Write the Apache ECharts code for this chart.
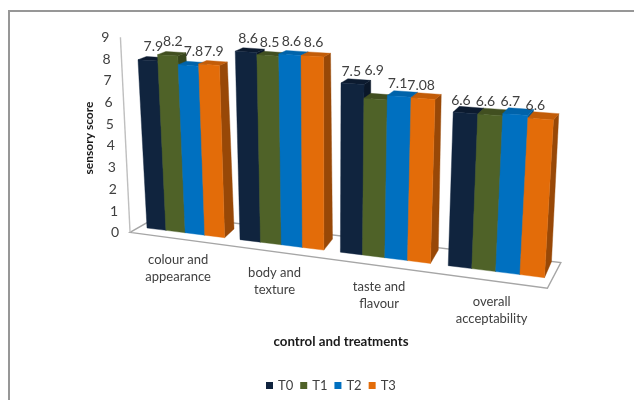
<!DOCTYPE html>
<html>
<head>
<meta charset="utf-8">
<style>html,body{margin:0;padding:0;background:#fff}#chart{width:634px;height:400px}</style>
<script src="https://cdn.jsdelivr.net/npm/echarts@6/dist/echarts.min.js"></script>
</head>
<body>
<div id="chart"></div>
<script>
// Sensory scores by attribute and treatment
const categories = ['colour and\nappearance', 'body and\ntexture', 'taste and\nflavour', 'overall\nacceptability'];
const treatments = ['T0', 'T1', 'T2', 'T3'];
const scoreT0 = [7.9, 8.6, 7.5, 6.6];
const scoreT1 = [8.2, 8.5, 6.9, 6.6];
const scoreT2 = [7.8, 8.6, 7.1, 6.7];
const scoreT3 = [7.9, 8.6, 7.08, 6.6];
const valueTicks = [0, 1, 2, 3, 4, 5, 6, 7, 8, 9];
const frontColors = ['#10243e', '#4f6228', '#0070c0', '#e36c09'];
const sideColors = ['#0a1729', '#38461c', '#00508a', '#984807'];
const topColors = ['#0c1b30', '#414f20', '#0063aa', '#c25c08'];

const allScores = [scoreT0, scoreT1, scoreT2, scoreT3];
const TEXT = '#404040';
const FONT = 'Lato, "Open Sans", sans-serif';
const GRID = { left: 147, top: 30, width: 368, height: 198 };
const GROUP_WIDTH = 0.84;
const LABEL_LIFT = [10, 9.5, 8, 7];

// Oblique perspective applied on top of the cartesian pixel position:
// the plot leans away from the viewer, so bars widen and shift to the right.
function project(px, py, depth) {
  const t = (px - GRID.left) / (GRID.width / 4);
  const v = (GRID.top + GRID.height - py) / (GRID.height / 9);
  const xb = 147 + 89.3 * t + 3.7 * t * t;
  const yb = 228 + 0.125 * (xb - 147);
  const f = (xb - 147) / 397;
  const unit = 21.3 + 2.6 * f;
  const lean = 0.0063 * (xb - 328);
  const vt = Math.min(v / 8, 1);
  const dxBase = 10 - 3 * f, dxTop = 8.5 - 3.5 * f;
  const dyBase = -7 - 9 * f, dyTop = -3.2 - 1 * f;
  const dx = dxBase + (dxTop - dxBase) * vt;
  const dy = dyBase + (dyTop - dyBase) * vt;
  return [xb + v * lean + dx * depth, yb - v * unit + dy * depth];
}

function barRenderer(si) {
  return function (params, api) {
    const group = api.value(0), val = api.value(1);
    const step = GROUP_WIDTH / 4;
    const left = group + si * step, right = left + step;
    const at = (t, v, d) => {
      const c = api.coord([t, v]);
      return project(c[0], c[1], d);
    };
    const face = (pts, fill) => ({
      type: 'polygon',
      shape: { points: pts },
      style: { fill: fill, stroke: fill, lineWidth: 0.4 }
    });
    const topBack = at(left + step * 0.35, val, 1);
    // The 6.9 label is pushed clear of its taller neighbour
    const lift = (group === 2 && si === 1) ? 23 : LABEL_LIFT[group];
    return {
      type: 'group',
      children: [
        face([at(right, 0, 0), at(right, 0, 1), at(right, val, 1), at(right, val, 0)], sideColors[si]),
        face([at(left, val, 0), at(right, val, 0), at(right, val, 1), at(left, val, 1)], topColors[si]),
        face([at(left, 0, 0), at(right, 0, 0), at(right, val, 0), at(left, val, 0)], frontColors[si]),
        {
          type: 'text',
          z2: 20,
          style: {
            text: String(val),
            x: topBack[0] - 2.3 * group,
            y: topBack[1] - lift,
            align: 'center',
            verticalAlign: 'middle',
            fill: TEXT,
            font: '14px ' + FONT
          }
        }
      ]
    };
  };
}

const barSeries = treatments.map((name, si) => ({
  name: name,
  type: 'custom',
  coordinateSystem: 'cartesian2d',
  silent: true,
  z: 3,
  itemStyle: { color: frontColors[si] },
  encode: { x: 0, y: 1 },
  data: allScores[si].map((s, i) => [i, s]),
  renderItem: barRenderer(si)
}));

// Floor panel and slanted value axis, drawn behind the bars
const floorSeries = {
  type: 'custom',
  coordinateSystem: 'cartesian2d',
  silent: true,
  z: 1,
  data: [[0, 0]],
  renderItem: function (params, api) {
    const at = (t, v, d) => {
      const c = api.coord([t, v]);
      return project(c[0], c[1], d);
    };
    const corners = [at(-0.1, 0, -0.8), at(3.9, 0, -0.6), at(3.92, 0, 1), at(-0.05, 0, 1.9)];
    return {
      type: 'group',
      children: [
        { type: 'polygon', shape: { points: corners }, style: { stroke: '#a6a6a6', lineWidth: 1.4, fill: '#ffffff' } },
        {
          type: 'line',
          shape: (function () {
            const a = corners[0], b = at(-0.1, 9 * 1.005, -0.8);
            return { x1: a[0], y1: a[1], x2: b[0], y2: b[1] };
          })(),
          style: { stroke: '#bfbfbf', lineWidth: 1.4 }
        }
      ]
    };
  }
};

// Value tick labels follow the slanted axis line
const tickSeries = {
  type: 'custom',
  coordinateSystem: 'cartesian2d',
  silent: true,
  z: 4,
  data: valueTicks.map(v => [0, v]),
  renderItem: function (params, api) {
    const c = api.coord([-0.1, api.value(1) * 1.005]);
    const p = project(c[0], c[1], -0.8);
    return {
      type: 'text',
      style: {
        text: String(api.value(1)),
        x: p[0] - 11,
        y: p[1] + 0.5,
        align: 'right',
        verticalAlign: 'middle',
        fill: TEXT,
        font: '14px ' + FONT
      }
    };
  }
};

// Category captions sit below the floor's front edge
const captionSeries = {
  type: 'custom',
  coordinateSystem: 'cartesian2d',
  silent: true,
  z: 4,
  data: categories.map((c, i) => [i, 0]),
  renderItem: function (params, api) {
    const i = api.value(0);
    const c = api.coord([i + GROUP_WIDTH / 2, 0]);
    const p = project(c[0], c[1], 0);
    return {
      type: 'text',
      style: {
        text: categories[i],
        x: p[0] - 7 + i * i * 0.33,
        y: p[1] + 36 + i * i * 0.33,
        align: 'center',
        verticalAlign: 'middle',
        lineHeight: 17,
        fill: TEXT,
        font: '13px ' + FONT
      }
    };
  }
};

const chart = echarts.init(document.getElementById('chart'), null, { renderer: 'canvas' });
chart.setOption({
  animation: false,
  backgroundColor: '#ffffff',
  grid: GRID,
  xAxis: { type: 'value', min: 0, max: 4, show: false },
  yAxis: { type: 'value', min: 0, max: 9, interval: 1, show: false },
  legend: {
    data: treatments,
    left: 261,
    top: 374,
    icon: 'rect',
    itemWidth: 7,
    itemHeight: 7,
    itemGap: 7,
    selectedMode: false,
    textStyle: { color: TEXT, fontFamily: 'Lato', fontSize: 13 }
  },
  graphic: [
    { type: 'rect', silent: true, z: -1, shape: { x: 9, y: 11, width: 700, height: 500 }, style: { fill: 'none', stroke: '#979797', lineWidth: 2 } },
    { type: 'text', silent: true, x: 89, y: 138, rotation: Math.PI / 2, style: { text: 'sensory score', align: 'center', verticalAlign: 'middle', fill: '#1a1a1a', font: 'bold 12px ' + FONT } },
    { type: 'text', silent: true, x: 341, y: 342, style: { text: 'control and treatments', align: 'center', verticalAlign: 'middle', fill: '#1a1a1a', font: 'bold 13.3px ' + FONT } }
  ],
  series: [floorSeries].concat(barSeries, [tickSeries, captionSeries])
});
</script>
</body>
</html>
